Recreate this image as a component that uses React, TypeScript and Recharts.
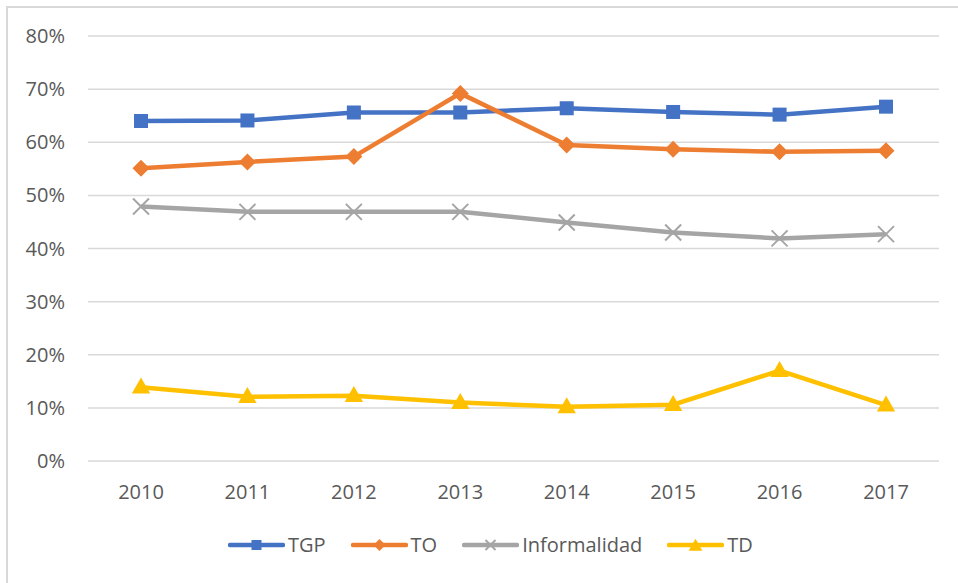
import React from "react";
import { LineChart, Line, XAxis, YAxis, CartesianGrid } from "recharts";

const years = ["2010", "2011", "2012", "2013", "2014", "2015", "2016", "2017"];
const tgp = [64.0, 64.1, 65.6, 65.6, 66.4, 65.7, 65.2, 66.7];
const to = [55.1, 56.3, 57.3, 69.2, 59.5, 58.7, 58.2, 58.4];
const informalidad = [47.9, 46.9, 46.9, 46.9, 44.9, 43.0, 41.9, 42.7];
const td = [13.9, 12.1, 12.3, 11.0, 10.2, 10.6, 17.0, 10.5];
const yTicks = [0, 10, 20, 30, 40, 50, 60, 70, 80];

const seriesNames = ["TGP", "TO", "Informalidad", "TD"];
const seriesKeys = ["tgp", "to", "inf", "td"];
const colors = ["#4472C4", "#ED7D31", "#A5A5A5", "#FFC000"];

const data = years.map((y, i) => ({
  year: y,
  tgp: tgp[i],
  to: to[i],
  inf: informalidad[i],
  td: td[i],
}));

const FONT = "'Open Sans', sans-serif";

function marker(kind: number, cx: number, cy: number, s: number, key?: any) {
  const c = colors[kind];
  if (kind === 0) {
    return <rect key={key} x={cx - s / 2} y={cy - s / 2} width={s} height={s} fill={c} />;
  }
  if (kind === 1) {
    const h = s / 2 + 1;
    return (
      <polygon
        key={key}
        points={`${cx},${cy - h} ${cx + h},${cy} ${cx},${cy + h} ${cx - h},${cy}`}
        fill={c}
      />
    );
  }
  if (kind === 2) {
    const h = s / 2;
    return (
      <g key={key} stroke={c} strokeWidth={2}>
        <line x1={cx - h} y1={cy - h} x2={cx + h} y2={cy + h} />
        <line x1={cx - h} y1={cy + h} x2={cx + h} y2={cy - h} />
      </g>
    );
  }
  const w = s * 1.15;
  const hh = s;
  return (
    <polygon
      key={key}
      points={`${cx},${cy - hh * 0.6} ${cx + w / 2},${cy + hh * 0.4} ${cx - w / 2},${cy + hh * 0.4}`}
      fill={c}
    />
  );
}

const makeDot = (kind: number) => (props: any) => {
  const { cx, cy, index } = props;
  if (cx == null || cy == null) return <g key={index} />;
  const sizes = [14, 15, 16, 16];
  return marker(kind, cx, cy, sizes[kind], index);
};

function LegendBox() {
  return (
    <div
      style={{
        position: "absolute",
        left: 228,
        top: 533,
        display: "flex",
        alignItems: "center",
        fontFamily: FONT,
        fontSize: 20,
        color: "#595959",
        lineHeight: "24px",
      }}
    >
      {seriesNames.map((n, i) => (
        <div key={n} style={{ display: "flex", alignItems: "center", marginRight: 25 }}>
          <svg width={57} height={20} style={{ display: "block" }}>
            <line x1={2} y1={10} x2={55} y2={10} stroke={colors[i]} strokeWidth={4.5} strokeLinecap="round" />
            {marker(i, 28.5, i === 3 ? 11 : 10, i === 3 ? 12 : 10)}
          </svg>
          <span style={{ marginLeft: 3 }}>{n}</span>
        </div>
      ))}
    </div>
  );
}

export default function App() {
  return (
    <div
      style={{
        position: "absolute",
        left: 0,
        top: 0,
        width: 958,
        height: 583,
        overflow: "hidden",
        background: "#fff",
      }}
    >
      <div
        style={{
          position: "absolute",
          left: 6,
          top: 6,
          width: 1000,
          height: 1000,
          border: "2px solid #D9D9D9",
          boxSizing: "border-box",
        }}
      />
      <div style={{ position: "absolute", left: 0, top: 0 }}>
        <LineChart
          width={958}
          height={583}
          data={data}
          margin={{ top: 36, right: 19, bottom: 0, left: 8 }}
        >
          <CartesianGrid vertical={false} stroke="#D9D9D9" strokeWidth={1.5} />
          <XAxis
            dataKey="year"
            axisLine={false}
            tickLine={false}
            tickSize={0}
            tickMargin={24}
            height={122}
            padding={{ left: 53, right: 53 }}
            tick={{ fill: "#595959", fontSize: 20, fontFamily: FONT }}
          />
          <YAxis
            domain={[0, 80]}
            ticks={yTicks}
            width={80}
            axisLine={false}
            tickLine={false}
            tickSize={0}
            tickMargin={23}
            tickFormatter={(v: number) => `${v}%`}
            tick={{ fill: "#595959", fontSize: 20, fontFamily: FONT }}
          />
          {seriesKeys.map((k, i) => (
            <Line
              key={k}
              type="linear"
              dataKey={k}
              name={seriesNames[i]}
              stroke={colors[i]}
              strokeWidth={4.5}
              dot={makeDot(i)}
              activeDot={false}
              isAnimationActive={false}
            />
          ))}
        </LineChart>
      </div>
      <LegendBox />
    </div>
  );
}
